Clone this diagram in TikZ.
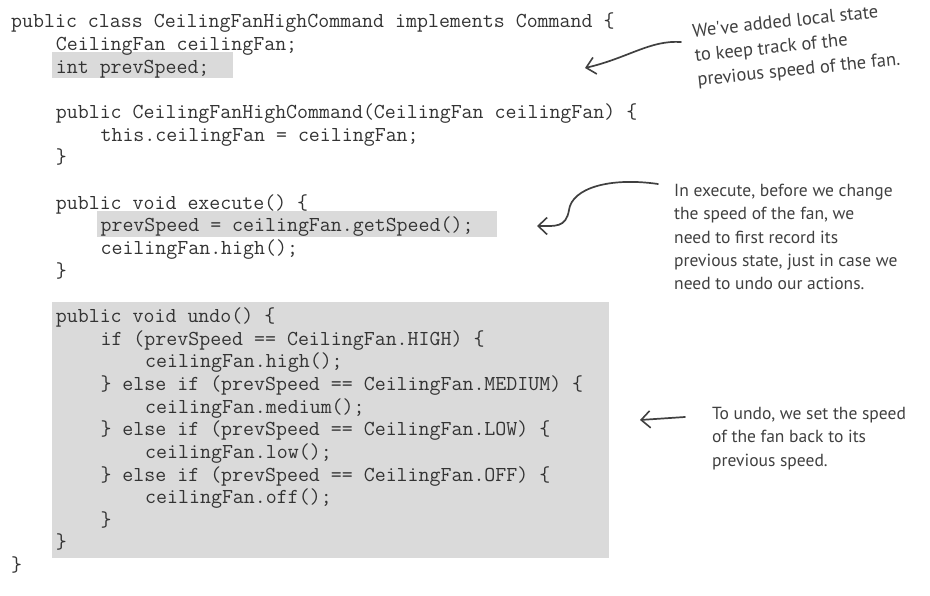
\documentclass[tikz,border=0pt]{standalone}
\usepackage{fontspec}
\newfontfamily\notefont{PT Sans}
\usetikzlibrary{arrows.meta}
\definecolor{boxgray}{HTML}{DADADA}
\definecolor{codeink}{HTML}{333333}
\definecolor{noteink}{HTML}{404040}
\tikzset{
  code/.style={anchor=base west, inner sep=0pt, text=codeink, font=\fontsize{21.3}{22.65}\selectfont\ttfamily},
  note/.style={anchor=base west, inner sep=0pt, text=noteink, align=left, font=\fontsize{17.5}{23.2}\selectfont\notefont},
  bignote/.style={note, rotate=6, font=\fontsize{18.5}{24.5}\selectfont\notefont},
  hand/.style={draw=noteink, line width=1.7pt, line cap=round, line join=round,
    -{Straight Barb[length=9pt,width=17pt,line width=1.6pt]}},
  hl/.style={fill=boxgray}
}
\newcommand{\cl}[4]{\node[code] (#1) at ({11+#3*11.17},{28+(#2-1)*22.65}) {#4};}
\begin{document}
\begin{tikzpicture}[x=1pt,y=-1pt]
\useasboundingbox (0,0) rectangle (930,596);
% highlight boxes
\fill[hl] (52,52) rectangle (233,78);
\fill[hl] (97,211) rectangle (497,237);
\fill[hl] (52,302) rectangle (609,558);
% code
\cl{l1}{1}{0}{public class CeilingFanHighCommand implements Command \{}
\cl{l2}{2}{4}{CeilingFan ceilingFan;}
\cl{l3}{3}{4}{int prevSpeed;}
\cl{l5}{5}{4}{public CeilingFanHighCommand(CeilingFan ceilingFan) \{}
\cl{l6}{6}{8}{this.ceilingFan = ceilingFan;}
\cl{l7}{7}{4}{\}}
\cl{l9}{9}{4}{public void execute() \{}
\cl{l10}{10}{8}{prevSpeed = ceilingFan.getSpeed();}
\cl{l11}{11}{8}{ceilingFan.high();}
\cl{l12}{12}{4}{\}}
\cl{l14}{14}{4}{public void undo() \{}
\cl{l15}{15}{8}{if (prevSpeed == CeilingFan.HIGH) \{}
\cl{l16}{16}{12}{ceilingFan.high();}
\cl{l17}{17}{8}{\} else if (prevSpeed == CeilingFan.MEDIUM) \{}
\cl{l18}{18}{12}{ceilingFan.medium();}
\cl{l19}{19}{8}{\} else if (prevSpeed == CeilingFan.LOW) \{}
\cl{l20}{20}{12}{ceilingFan.low();}
\cl{l21}{21}{8}{\} else if (prevSpeed == CeilingFan.OFF) \{}
\cl{l22}{22}{12}{ceilingFan.off();}
\cl{l23}{23}{8}{\}}
\cl{l24}{24}{4}{\}}
\cl{l25}{25}{0}{\}}
% notes (base anchor = baseline of the last line)
\node[bignote] (n1) at (698,86) {We've added local state\\to keep track of the\\previous speed of the fan.};
\node[note] (n2) at (674,289.5) {In execute, before we change\\the speed of the fan, we\\need to first record its\\previous state, just in case we\\need to undo our actions.};
\node[note] (n3) at (712,466) {To undo, we set the speed\\of the fan back to its\\previous speed.};
% arrows
\coordinate (a1s) at (681,42);
\coordinate (a1t) at (585,68);
\coordinate (a2s) at (658,184);
\coordinate (a2t) at (537,226);
\coordinate (a3s) at (685,417);
\coordinate (a3t) at (640,420);
\draw[hand] (a1s) .. controls (650,40) and (628,58) .. (a1t);
\draw[hand] (a2s) .. controls (610,177) and (572,188) .. (569,210) .. controls (566,228) and (555,226) .. (a2t);
\draw[hand] (a3s) -- (a3t);
\end{tikzpicture}
\end{document}
